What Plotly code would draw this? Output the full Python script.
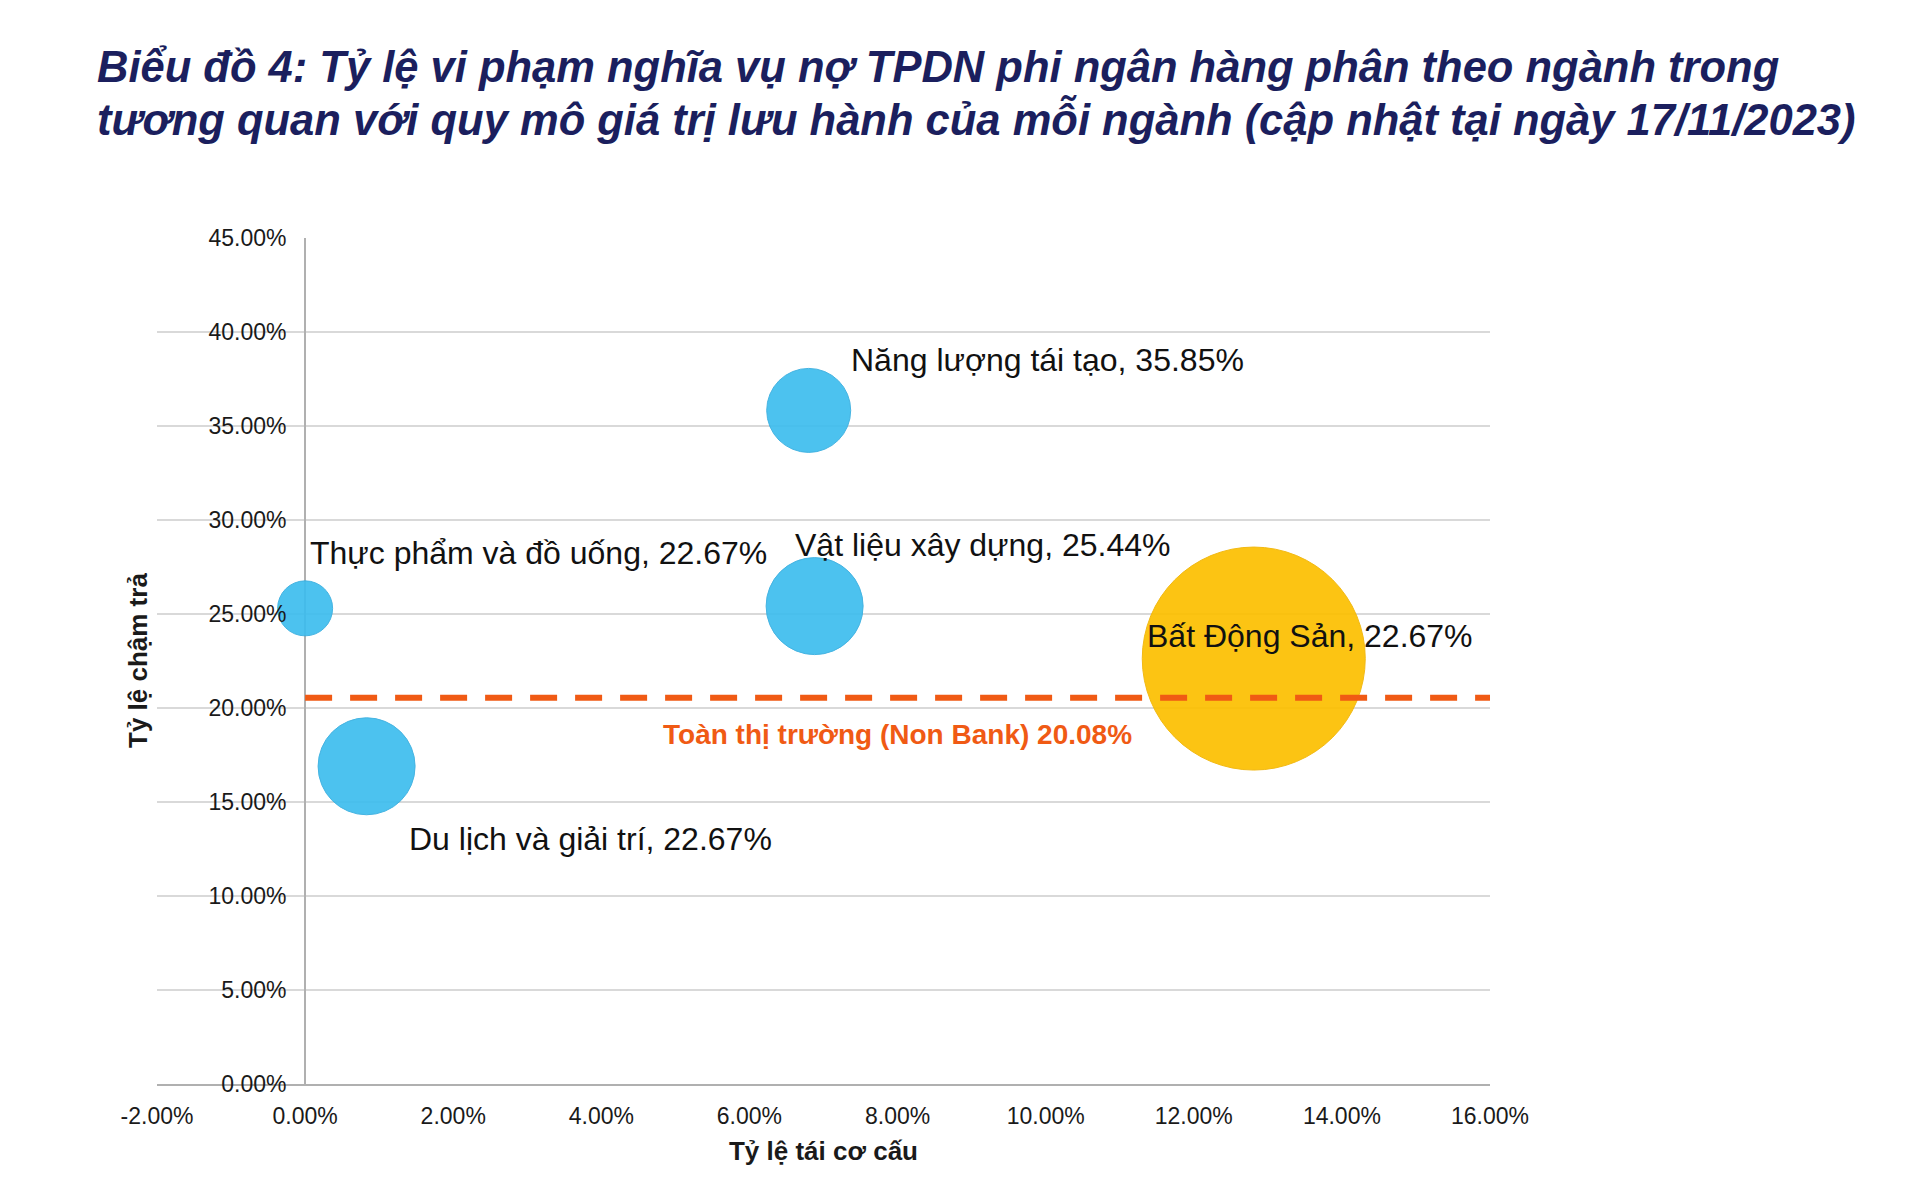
import plotly.graph_objects as go

# bubble data
nganh = ["Thực phẩm và đồ uống", "Du lịch và giải trí", "Năng lượng tái tạo",
         "Vật liệu xây dựng", "Bất Động Sản"]
ty_le_tai_co_cau = [0.0, 0.83, 6.8, 6.88, 12.81]     # x, %
ty_le_cham_tra = [25.3, 16.9, 35.83, 25.42, 22.63]   # y, %
quy_mo = [55, 97, 84, 97, 223]                       # bubble size
nhan = ["Thực phẩm và đồ uống, 22.67%", "Du lịch và giải trí, 22.67%",
        "Năng lượng tái tạo, 35.85%", "Vật liệu xây dựng, 25.44%",
        "Bất Động Sản, 22.67%"]
mau = ["#3dbdee", "#3dbdee", "#3dbdee", "#3dbdee", "#fcbf00"]
mau_vien = ["#36aee0", "#36aee0", "#36aee0", "#36aee0", "#f2b400"]

toan_thi_truong = 20.55
toan_thi_truong_label = "Toàn thị trường (Non Bank) 20.08%"

x_ticks = [-2, 0, 2, 4, 6, 8, 10, 12, 14, 16]
y_ticks = [0, 5, 10, 15, 20, 25, 30, 35, 40, 45]

title_lines = ["Biểu đồ 4: Tỷ lệ vi phạm nghĩa vụ nợ TPDN phi ngân hàng phân theo ngành trong",
               "tương quan với quy mô giá trị lưu hành của mỗi ngành (cập nhật tại ngày 17/11/2023)"]

# label offsets (px) relative to bubble centre
lbl_dx = [3, 40, 40, -22, -109]
lbl_dy = [55, -73, 50, 61, 23]

FONT = "Liberation Sans, Arial, sans-serif"
W, H = 1920, 1197
OFF = 8  # page body margin
L, T = 157 - OFF, 238 - OFF
PW, PH = 1333, 846
R, B = W - L - PW, H - T - PH


def px_to_paper_x(px):
    return (px - OFF - L) / PW


def px_to_paper_y(py):
    return (T + PH - (py - OFF)) / PH


fig = go.Figure()

fig.add_trace(go.Scatter(
    x=ty_le_tai_co_cau, y=ty_le_cham_tra, mode="markers", text=nganh,
    marker=dict(size=quy_mo, sizemode="diameter", sizeref=1, color=mau,
                opacity=0.92, line=dict(color=mau_vien, width=1)),
    showlegend=False))

fig.add_trace(go.Scatter(
    x=[0, 16], y=[toan_thi_truong, toan_thi_truong], mode="lines",
    line=dict(color="#f05a14", width=6, dash="27px,18px"),
    hoverinfo="skip", showlegend=False))

for i in range(len(nhan)):
    fig.add_annotation(x=ty_le_tai_co_cau[i], y=ty_le_cham_tra[i], text=nhan[i],
                       showarrow=False, xanchor="left", yanchor="middle",
                       xshift=lbl_dx[i], yshift=lbl_dy[i],
                       font=dict(family=FONT, size=32, color="#111111"))

fig.add_annotation(x=8, y=toan_thi_truong, text="<b>" + toan_thi_truong_label + "</b>",
                   showarrow=False, xanchor="center", yanchor="middle", yshift=-37,
                   font=dict(family=FONT, size=28, color="#f05a14"))

# title, two lines
for j, line_y in enumerate([67, 120]):
    fig.add_annotation(xref="paper", yref="paper",
                       x=px_to_paper_x(95), y=px_to_paper_y(line_y),
                       text="<b><i>" + title_lines[j] + "</i></b>",
                       showarrow=False, xanchor="left", yanchor="middle",
                       font=dict(family=FONT, size=43.5, color="#1b1f5e"))

# y axis title
fig.add_annotation(xref="paper", yref="paper",
                   x=px_to_paper_x(138), y=px_to_paper_y(661),
                   text="<b>Tỷ lệ chậm trả</b>", textangle=-90,
                   showarrow=False, xanchor="center", yanchor="middle",
                   font=dict(family=FONT, size=26, color="#1a1a1a"))

xpos = (0 - x_ticks[0]) / (x_ticks[-1] - x_ticks[0])
fig.update_layout(
    width=W, height=H,
    margin=dict(l=L, r=R, t=T, b=B),
    paper_bgcolor="white", plot_bgcolor="white",
    font=dict(family=FONT, color="#1a1a1a"),
    xaxis=dict(
        range=[x_ticks[0], x_ticks[-1]], tickvals=x_ticks,
        ticktext=[f"{v:.2f}%" for v in x_ticks], showgrid=False,
        zeroline=True, zerolinecolor="#b0b0b0", zerolinewidth=2,
        showline=True, linecolor="#b0b0b0", linewidth=2,
        ticks="outside", ticklen=10, tickcolor="rgba(0,0,0,0)",
        tickfont=dict(size=23, color="#1a1a1a"),
        title=dict(text="<b>Tỷ lệ tái cơ cấu</b>", standoff=14,
                   font=dict(size=26, color="#1a1a1a"))),
    yaxis=dict(
        range=[y_ticks[0], y_ticks[-1]], tickvals=y_ticks,
        ticktext=[f"{v:.2f}%" for v in y_ticks],
        anchor="free", position=xpos,
        showgrid=True, gridcolor="#d9d9d9", gridwidth=2,
        zeroline=False, showline=False,
        ticks="outside", ticklen=14, tickcolor="rgba(0,0,0,0)",
        tickfont=dict(size=23, color="#1a1a1a")),
)

fig.write_html("out.html")
